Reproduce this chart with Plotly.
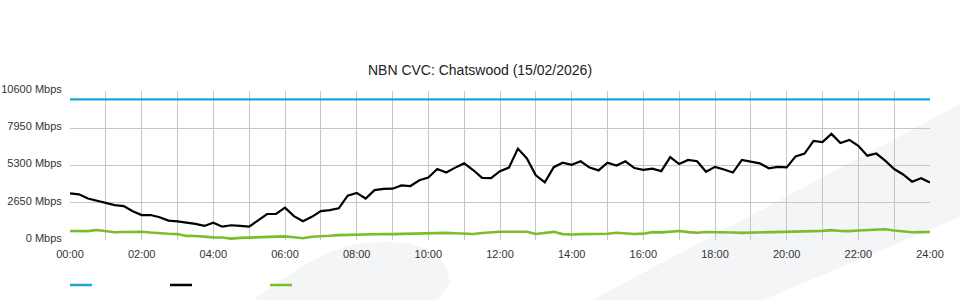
import plotly.graph_objects as go

# ---- data (hours since midnight, 15-minute samples) ----
hours = [i * 0.25 for i in range(97)]

capacity = [10000] * 97

traffic = [
    3316, 3250, 2950, 2790, 2650, 2480, 2410, 2050, 1775, 1775, 1620, 1380,
    1330, 1250, 1150, 1000, 1230, 950, 1050, 1000, 950, 1400, 1850, 1850,
    2300, 1700, 1330, 1650, 2050, 2130, 2250, 3150, 3350, 2950, 3550, 3640,
    3650, 3880, 3840, 4250, 4450, 5050, 4800, 5150, 5450, 4980, 4420, 4400,
    4900, 5150, 6500, 5800, 4600, 4100, 5180, 5500, 5350, 5600, 5150, 4950,
    5500, 5300, 5600, 5120, 4990, 5080, 4900, 5900, 5400, 5700, 5600, 4850,
    5200, 5020, 4800, 5700, 5550, 5450, 5100, 5200, 5160, 5950, 6150, 7050,
    6960, 7550, 6900, 7120, 6700, 6000, 6150, 5650, 5050, 4660, 4150, 4400,
    4095,
]

upload = [
    640, 620, 630, 710, 620, 550, 570, 590, 590, 530, 470, 440,
    420, 290, 280, 220, 190, 180, 95, 150, 170, 200, 220, 280,
    260, 200, 120, 230, 240, 300, 350, 370, 400, 420, 430, 430,
    420, 430, 450, 480, 500, 520, 510, 480, 460, 430, 500, 570,
    590, 590, 590, 590, 430, 520, 580, 420, 390, 420, 430, 430,
    440, 520, 480, 430, 450, 560, 540, 580, 640, 560, 520, 570,
    540, 520, 530, 510, 520, 520, 540, 590, 600, 610, 620, 630,
    650, 700, 640, 630, 680, 710, 740, 760, 680, 620, 550, 560,
    570,
]

x_tickvals = list(range(0, 25))
x_ticktext = [f"{h:02d}:00" if h % 2 == 0 else "" for h in x_tickvals]
y_tickvals = [0, 2650, 5300, 7950, 10600]
y_ticktext = [f"{v} Mbps" for v in y_tickvals]

BLUE = "#1fa2de"
BLACK = "#000000"
GREEN = "#7cbd2c"
GRID = "#c6c6c6"
FONT = "Liberation Sans, Arial, sans-serif"

W, H = 960, 300
ML, MR, MT, MB = 70, 30, 91, 60
PW, PH = W - ML - MR, H - MT - MB


def px(xp):
    return (xp - ML) / PW


def py(yp):
    return (H - MB - yp) / PH


fig = go.Figure()
fig.add_trace(go.Scatter(x=hours, y=capacity, mode="lines",
                         line=dict(color=BLUE, width=2.2), showlegend=False))
fig.add_trace(go.Scatter(x=hours, y=traffic, mode="lines",
                         line=dict(color=BLACK, width=2.2), showlegend=False))
fig.add_trace(go.Scatter(x=hours, y=upload, mode="lines",
                         line=dict(color=GREEN, width=2.6), showlegend=False))

shapes = []
# background watermark shapes
band = [(592, 300), (960, 104), (960, 217), (763, 300)]
shapes.append(dict(type="path", xref="paper", yref="paper", layer="below",
                   path="M " + " L ".join(f"{px(a)},{py(b)}" for a, b in band) + " Z",
                   fillcolor="#f4f5f7", line=dict(width=0)))
blob = [(253, 300), (278, 282), (303, 266), (327, 253), (347, 246), (363, 243),
        (385, 242), (407, 243), (428, 249), (440, 257), (447, 270), (450, 283),
        (444, 292), (437, 300)]
shapes.append(dict(type="path", xref="paper", yref="paper", layer="below",
                   path="M " + " L ".join(f"{px(a)},{py(b)}" for a, b in blob) + " Z",
                   fillcolor="#f4f5f7", line=dict(width=0)))
# legend swatches
for x0, c in [(70, BLUE), (170, BLACK), (270, GREEN)]:
    shapes.append(dict(type="line", xref="paper", yref="paper",
                       x0=px(x0), x1=px(x0 + 22), y0=py(285), y1=py(285),
                       line=dict(color=c, width=2.5)))

fig.update_layout(
    width=W, height=H,
    margin=dict(l=ML, r=MR, t=MT, b=MB, autoexpand=False),
    paper_bgcolor="white",
    plot_bgcolor="rgba(0,0,0,0)",
    font=dict(family=FONT, size=11, color="#333333"),
    title=dict(text="NBN CVC: Chatswood (15/02/2026)", x=0.5, xanchor="center",
               y=1 - 70 / H, yanchor="middle", yref="container",
               font=dict(family=FONT, size=14, color="#222222")),
    shapes=shapes,
    xaxis=dict(range=[0, 24], tickvals=x_tickvals, ticktext=x_ticktext,
               showgrid=True, gridcolor=GRID, gridwidth=1, zeroline=False,
               showline=False, ticks="outside", ticklen=4, automargin=False,
               tickcolor="rgba(0,0,0,0)", fixedrange=True),
    yaxis=dict(range=[0, 10600], tickvals=y_tickvals, ticktext=y_ticktext,
               showgrid=True, gridcolor=GRID, gridwidth=1, zeroline=False,
               showline=False, ticks="outside", ticklen=5, automargin=False,
               ticklabelshift=-2,
               tickcolor="rgba(0,0,0,0)", fixedrange=True),
)

fig.write_html("out.html")
